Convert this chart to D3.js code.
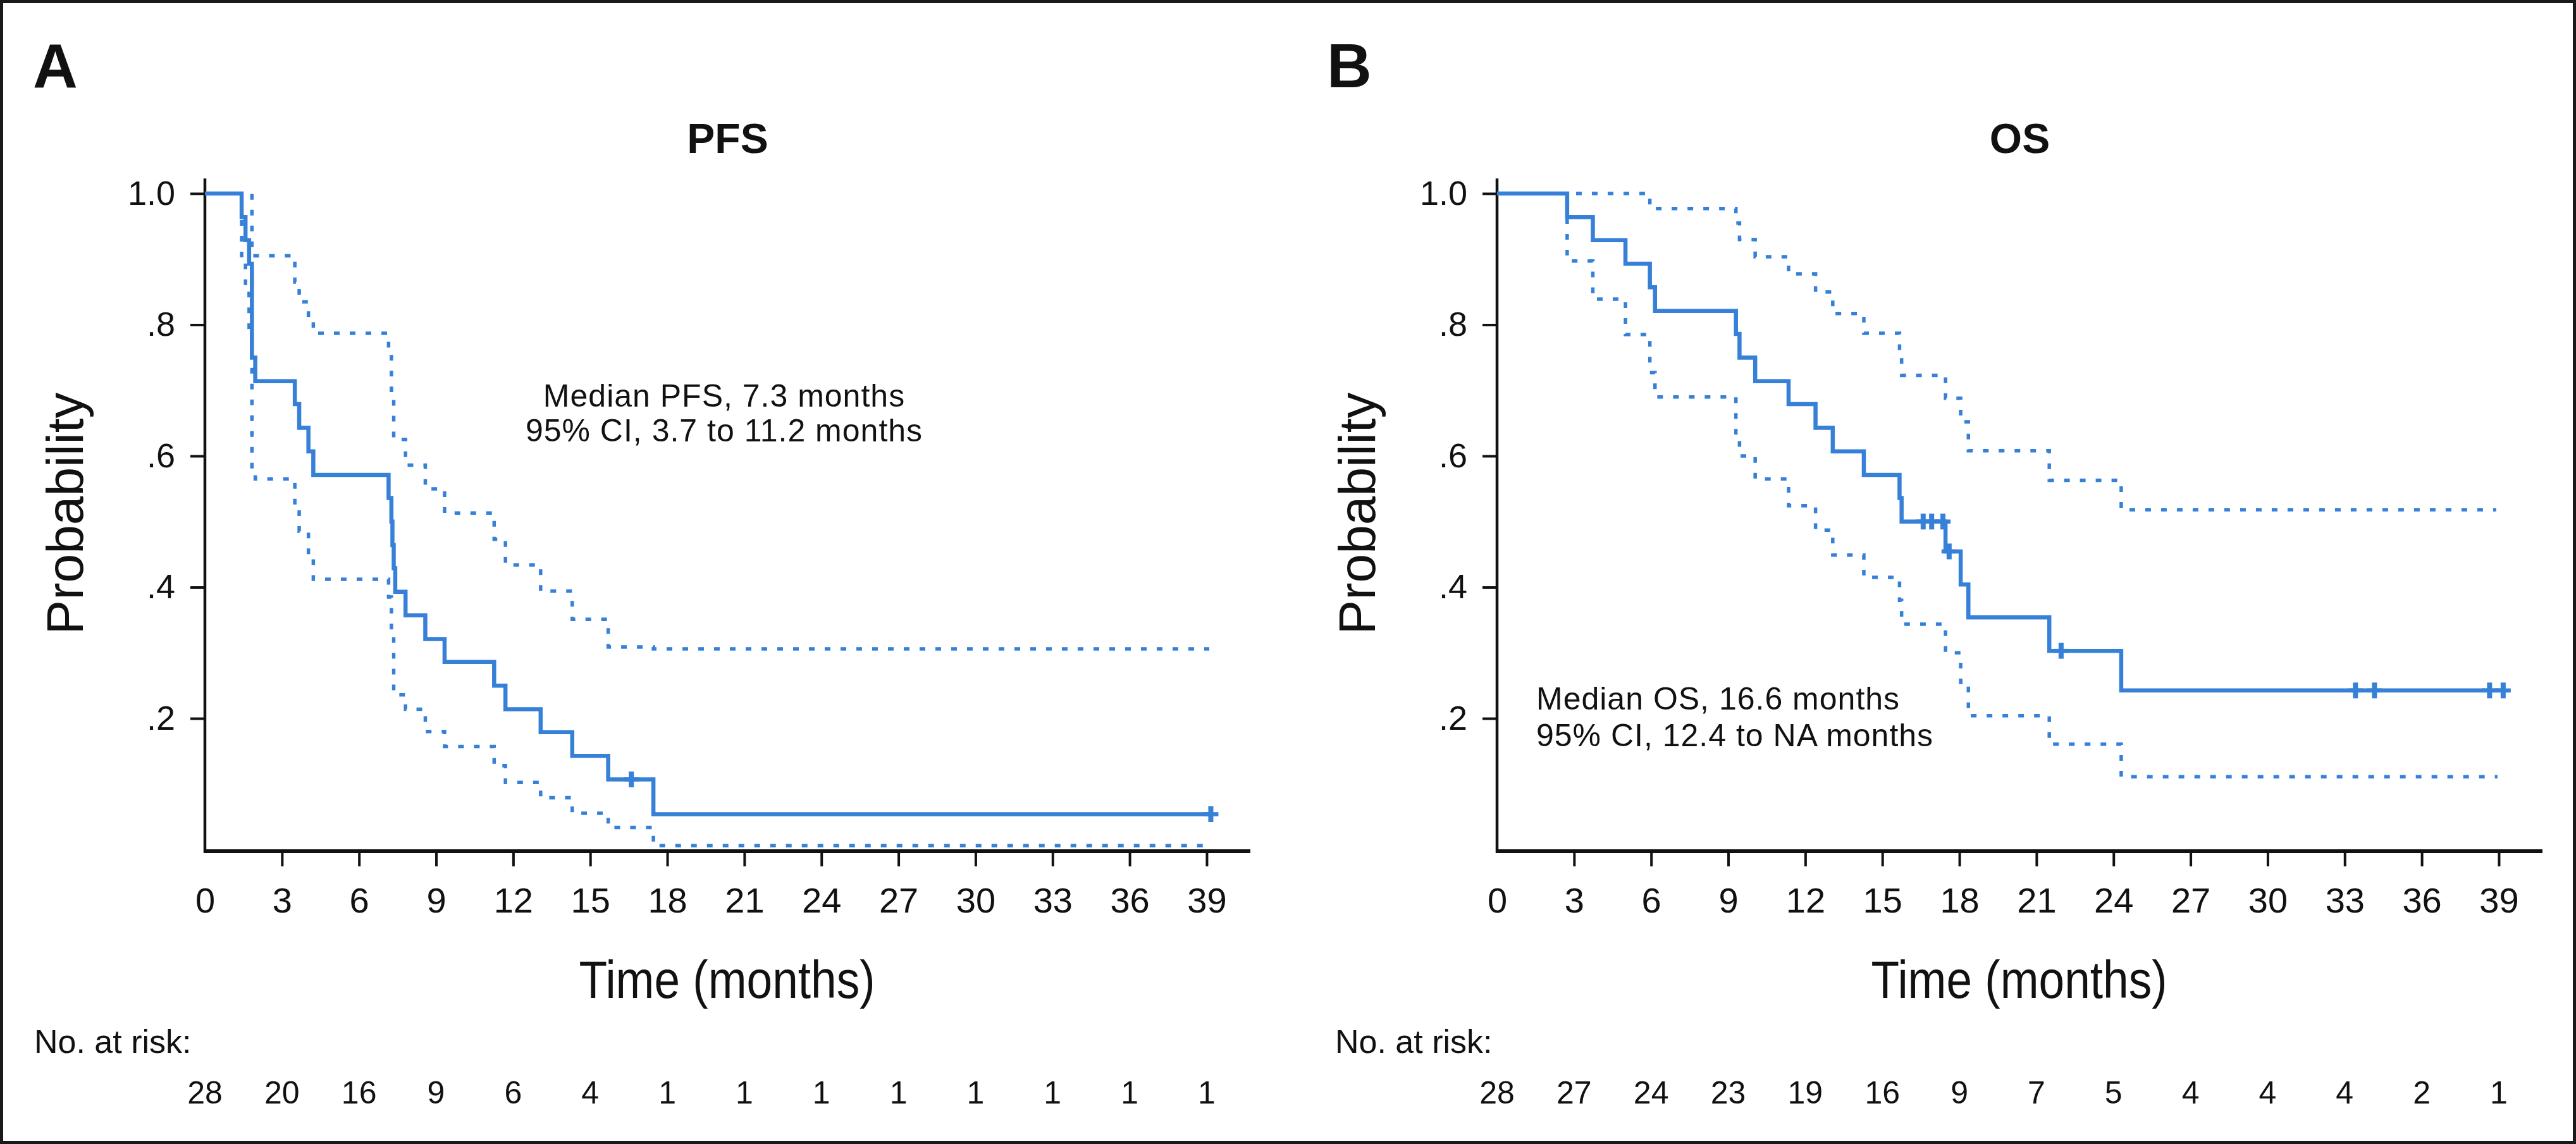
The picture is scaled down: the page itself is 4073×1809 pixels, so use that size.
<!DOCTYPE html>
<html>
<head>
<meta charset="utf-8">
<script src="https://cdn.jsdelivr.net/npm/d3@7"></script>
<style>
  html, body { margin: 0; padding: 0; background: #fff; }
  svg { display: block; }
  text { font-family: "Liberation Sans", Arial, Helvetica, sans-serif; fill: #111; }
</style>
</head>
<body>
<svg id="chart" width="4073" height="1809"></svg>
<script>
// ---------------- DATA ----------------
const monthTicks = [0, 3, 6, 9, 12, 15, 18, 21, 24, 27, 30, 33, 36, 39];
const probTicks = [0.2, 0.4, 0.6, 0.8, 1.0];
const probTickLabels = [".2", ".4", ".6", ".8", "1.0"];

const pfsAtRisk = [28, 20, 16, 9, 6, 4, 1, 1, 1, 1, 1, 1, 1, 1];
const osAtRisk  = [28, 27, 24, 23, 19, 16, 9, 7, 5, 4, 4, 4, 2, 1];

// PFS Kaplan-Meier estimate
const pfsTime = [0, 1.43, 1.58, 1.72, 1.83, 1.96, 3.5, 3.67, 4.03, 4.22, 7.15, 7.26, 7.30, 7.35, 7.41, 7.81, 8.58, 9.33, 11.26, 11.7, 13.07, 14.3, 15.7, 17.46, 39.16];
const pfsSurv = [1, 0.964, 0.929, 0.893, 0.75, 0.714, 0.679, 0.643, 0.607, 0.571, 0.536, 0.5, 0.464, 0.429, 0.393, 0.357, 0.321, 0.286, 0.25, 0.214, 0.179, 0.143, 0.107, 0.054, 0.054];
const pfsCensorTime = [16.6, 39.16];
const pfsCensorSurv = [0.107, 0.054];
// PFS 95% CI
const pfsUpperTime = [0, 1.83, 3.5, 3.67, 4.03, 4.22, 7.15, 7.26, 7.35, 7.81, 8.58, 9.33, 11.26, 11.7, 13.07, 14.3, 15.7, 17.46, 39.1];
const pfsUpper     = [1, 0.905, 0.865, 0.835, 0.81, 0.787, 0.755, 0.70, 0.625, 0.586, 0.55, 0.513, 0.473, 0.434, 0.394, 0.351, 0.309, 0.306, 0.306];
const pfsLowerTime = [0, 1.43, 1.58, 1.72, 1.83, 1.96, 3.5, 3.67, 4.03, 4.22, 7.15, 7.26, 7.35, 7.81, 8.58, 9.33, 11.26, 11.7, 13.07, 14.3, 15.7, 17.46, 38.95];
const pfsLower     = [1, 0.895, 0.855, 0.78, 0.58, 0.565, 0.52, 0.485, 0.445, 0.412, 0.385, 0.33, 0.236, 0.214, 0.18, 0.157, 0.128, 0.1025, 0.079, 0.0555, 0.0337, 0.006, 0.006];

// OS Kaplan-Meier estimate
const osTime = [0, 2.73, 3.73, 5.0, 5.95, 6.15, 9.3, 9.44, 10.05, 11.35, 12.4, 13.07, 14.28, 15.67, 15.75, 17.46, 18.05, 18.35, 21.5, 24.3, 39.17];
const osSurv = [1, 0.964, 0.929, 0.893, 0.857, 0.821, 0.786, 0.75, 0.714, 0.679, 0.643, 0.607, 0.571, 0.536, 0.5, 0.4545, 0.404, 0.354, 0.303, 0.2426, 0.2426];
const osCensorTime = [16.59, 16.92, 17.36, 17.6, 21.96, 33.42, 34.16, 38.64, 39.17];
const osCensorSurv = [0.5, 0.5, 0.5, 0.4545, 0.303, 0.2426, 0.2426, 0.2426, 0.2426];
// OS 95% CI
const osUpperTime = [0, 5.95, 9.3, 9.44, 10.05, 11.35, 12.4, 13.07, 14.28, 15.67, 15.75, 17.46, 18.05, 18.35, 21.5, 24.3, 38.9];
const osUpper     = [1, 0.977, 0.955, 0.93, 0.9035, 0.8775, 0.85, 0.817, 0.787, 0.753, 0.723, 0.688, 0.652, 0.608, 0.563, 0.518, 0.518];
const osLowerTime = [0, 2.73, 3.73, 5.0, 5.95, 6.15, 9.3, 9.44, 10.05, 11.35, 12.4, 13.07, 14.28, 15.67, 15.75, 17.46, 18.05, 18.35, 21.5, 24.3, 38.95];
const osLower     = [1, 0.897, 0.839, 0.785, 0.727, 0.69, 0.63, 0.60, 0.565, 0.524, 0.487, 0.449, 0.415, 0.38, 0.3435, 0.30, 0.255, 0.204, 0.1607, 0.111, 0.111];

const panelLetters = ["A", "B"];
const panelTitles = ["PFS", "OS"];
const pfsNote = ["Median PFS, 7.3 months", "95% CI, 3.7 to 11.2 months"];
const osNote  = ["Median OS, 16.6 months", "95% CI, 12.4 to NA months"];

// ---------------- DRAW ----------------
const W = 4073, H = 1809;
const BLUE = "#3680d8";
const INK = "#111";
const svg = d3.select("#chart");
svg.append("rect").attr("x", 0).attr("y", 0).attr("width", W).attr("height", H).attr("fill", "#fff");

const panels = [
  { x0: 324, letter: panelLetters[0], title: panelTitles[0], atRisk: pfsAtRisk,
    km: d3.zip(pfsTime, pfsSurv), up: d3.zip(pfsUpperTime, pfsUpper), lo: d3.zip(pfsLowerTime, pfsLower),
    cens: d3.zip(pfsCensorTime, pfsCensorSurv), note: pfsNote, noteAnchor: "middle", noteX: 1145, noteY: [643, 698],
    letterX: 52, riskLabelX: 54, ylabX: 131 },
  { x0: 2367, letter: panelLetters[1], title: panelTitles[1], atRisk: osAtRisk,
    km: d3.zip(osTime, osSurv), up: d3.zip(osUpperTime, osUpper), lo: d3.zip(osLowerTime, osLower),
    cens: d3.zip(osCensorTime, osCensorSurv), note: osNote, noteAnchor: "start", noteX: 2429, noteY: [1122, 1180],
    letterX: 2098, riskLabelX: 2111, ylabX: 2174 }
];

panels.forEach(p => {
  const g = svg.append("g");
  const x = d3.scaleLinear().domain([0, 40.7]).range([p.x0, p.x0 + 1653]);
  const y = d3.scaleLinear().domain([0, 1]).range([1343.5, 306]);

  // panel letter
  g.append("text").attr("x", p.letterX).attr("y", 138)
    .attr("font-size", 98).attr("font-weight", "bold").text(p.letter);

  // title
  g.append("text").attr("x", (x.range()[0] + x.range()[1]) / 2).attr("y", 242)
    .attr("text-anchor", "middle").attr("font-size", 66).attr("font-weight", "bold").text(p.title);

  // x axis ticks + labels
  const xAxis = d3.axisBottom(x).tickValues(monthTicks).tickSize(24).tickPadding(33).tickSizeOuter(0);
  const gx = g.append("g").attr("transform", `translate(0,${y(0) + 2.5})`).call(xAxis);
  gx.select(".domain").remove();
  gx.selectAll(".tick line").attr("stroke", INK).attr("stroke-width", 4)
    .filter(d => d === 0).remove();
  gx.selectAll(".tick text").attr("font-size", 56).attr("fill", INK)
    .attr("font-family", "'Liberation Sans', Arial, sans-serif");

  // y axis ticks + labels
  const yAxis = d3.axisLeft(y).tickValues(probTicks).tickSize(23).tickPadding(24)
    .tickFormat((d, i) => probTickLabels[i]).tickSizeOuter(0);
  const gy = g.append("g").attr("transform", `translate(${p.x0},0)`).call(yAxis);
  gy.select(".domain").remove();
  gy.selectAll(".tick line").attr("stroke", INK).attr("stroke-width", 4);
  gy.selectAll(".tick text").attr("font-size", 54).attr("fill", INK)
    .attr("font-family", "'Liberation Sans', Arial, sans-serif");

  // axis lines
  g.append("line").attr("x1", p.x0).attr("x2", p.x0).attr("y1", y(1.023)).attr("y2", y(0) + 5)
    .attr("stroke", INK).attr("stroke-width", 4.5);
  g.append("line").attr("x1", p.x0 - 2).attr("x2", x(40.7)).attr("y1", y(0) + 2.5).attr("y2", y(0) + 2.5)
    .attr("stroke", INK).attr("stroke-width", 6);

  // axis titles
  g.append("text").attr("transform", `translate(${p.ylabX},812) rotate(-90)`)
    .attr("text-anchor", "middle").attr("font-size", 82).text("Probability");
  g.append("text").attr("x", (x.range()[0] + x.range()[1]) / 2 - 1).attr("y", 1578)
    .attr("text-anchor", "middle").attr("font-size", 84)
    .attr("textLength", 468).attr("lengthAdjust", "spacingAndGlyphs").text("Time (months)");

  // number at risk
  g.append("text").attr("x", p.riskLabelX).attr("y", 1665).attr("font-size", 52).text("No. at risk:");
  g.selectAll(".risk").data(p.atRisk).enter().append("text")
    .attr("x", (d, i) => x(monthTicks[i])).attr("y", 1745)
    .attr("text-anchor", "middle").attr("font-size", 50).text(d => d);

  // curves
  const line = d3.line().x(d => x(d[0])).y(d => y(d[1])).curve(d3.curveStepAfter);
  [p.up, p.lo].forEach(ci => {
    g.append("path").attr("d", line(ci)).attr("fill", "none").attr("stroke", BLUE)
      .attr("stroke-width", 5.5).attr("stroke-dasharray", "9 16");
  });
  g.append("path").attr("d", line(p.km)).attr("fill", "none").attr("stroke", BLUE)
    .attr("stroke-width", 6.5);

  // censor marks
  const cg = g.append("g").attr("stroke", BLUE);
  p.cens.forEach(c => {
    cg.append("line").attr("x1", x(c[0])).attr("x2", x(c[0]))
      .attr("y1", y(c[1]) - 12.5).attr("y2", y(c[1]) + 12.5).attr("stroke-width", 8);
    cg.append("line").attr("x1", x(c[0]) - 12).attr("x2", x(c[0]) + 12)
      .attr("y1", y(c[1])).attr("y2", y(c[1])).attr("stroke-width", 6.5);
  });

  // median annotation
  p.note.forEach((t, i) => {
    g.append("text").attr("x", p.noteX).attr("y", p.noteY[i]).attr("text-anchor", p.noteAnchor)
      .attr("font-size", 50).attr("letter-spacing", 1).text(t);
  });
});

// outer frame
svg.append("rect").attr("x", 0).attr("y", 0).attr("width", W).attr("height", H)
  .attr("fill", "none").attr("stroke", "#1a1a1a").attr("stroke-width", 10);
</script>
</body>
</html>
